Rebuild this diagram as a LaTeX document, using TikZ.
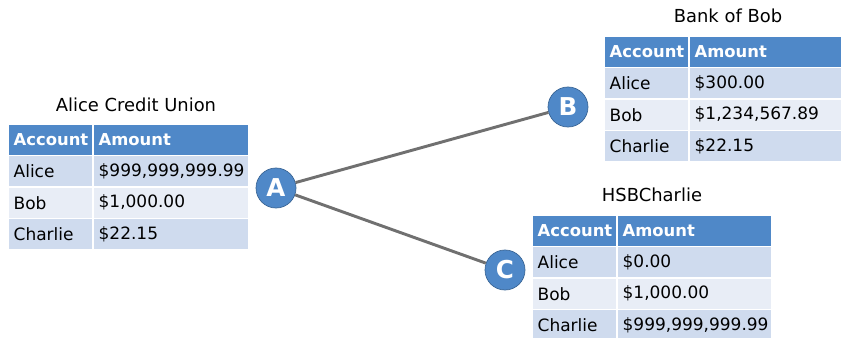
\documentclass[tikz,border=0pt]{standalone}
\usepackage{fontspec}
\setmainfont{DejaVu Sans}
\usetikzlibrary{positioning}
\definecolor{hdrblue}{HTML}{4F88C8}
\definecolor{rowdark}{HTML}{CFDBEE}
\definecolor{rowlight}{HTML}{E8EDF6}
\definecolor{linkgray}{HTML}{707070}
\tikzset{
	cell/.style={rectangle,draw=white,line width=1pt,inner xsep=0.17cm,inner ysep=0pt,outer sep=0pt,minimum height=0.945cm,align=left,font=\fontsize{14.5}{16}\selectfont},
	hdr/.style={cell,fill=hdrblue,text=white,font=\fontsize{14}{16}\selectfont\bfseries},
	odd/.style={cell,fill=rowdark},
	even/.style={cell,fill=rowlight},
	acct/.style={text width=2.21cm},
	title/.style={font=\fontsize{15.3}{17}\selectfont},
	bank/.style={circle,fill=hdrblue,draw=hdrblue!75!black,line width=.6pt,minimum size=1.2cm,inner sep=0pt,text=white,font=\fontsize{21}{24}\selectfont\bfseries},
	link/.style={draw=linkgray,line width=2.5pt}
}
% one account table: name, top left corner, amount width, three amounts
\newcommand{\banktable}[6]{%
	\node[hdr,acct,anchor=north west] (#1-h1) at (#2) {Account};
	\node[hdr,text width=#3,right=0pt of #1-h1] (#1-h2) {Amount};
	\node[odd,acct,below=0pt of #1-h1] (#1-a1) {Alice};
	\node[odd,text width=#3,right=0pt of #1-a1] (#1-a2) {#4};
	\node[even,acct,below=0pt of #1-a1] (#1-b1) {Bob};
	\node[even,text width=#3,right=0pt of #1-b1] (#1-b2) {#5};
	\node[odd,acct,below=0pt of #1-b1] (#1-c1) {Charlie};
	\node[odd,text width=#3,right=0pt of #1-c1] (#1-c2) {#6};
}
\begin{document}
\begin{tikzpicture}[x=0.03cm,y=-0.03cm]
	\useasboundingbox (0,0) rectangle (841,338);
	\clip (0,0) rectangle (841,338);
	% tables
	\banktable{tA}{8,124}{4.34cm}{\$999,999,999.99}{\$1,000.00}{\$22.15}
	\banktable{tB}{604,36}{4.31cm}{\$300.00}{\$1,234,567.89}{\$22.15}
	\banktable{tC}{532,215}{4.31cm}{\$0.00}{\$1,000.00}{\$999,999,999.99}
	\node[title] (tA-t) at (136,105) {Alice Credit Union};
	\node[title] (tB-t) at (728,16) {Bank of Bob};
	\node[title] (tC-t) at (652,195) {HSBCharlie};
	% banks
	\node[bank] (A) at (276,188) {A};
	\node[bank] (B) at (568,107) {B};
	\node[bank] (C) at (505,270) {C};
	\draw[link] (A)--(B);
	\draw[link] (A)--(C);
\end{tikzpicture}
\end{document}
